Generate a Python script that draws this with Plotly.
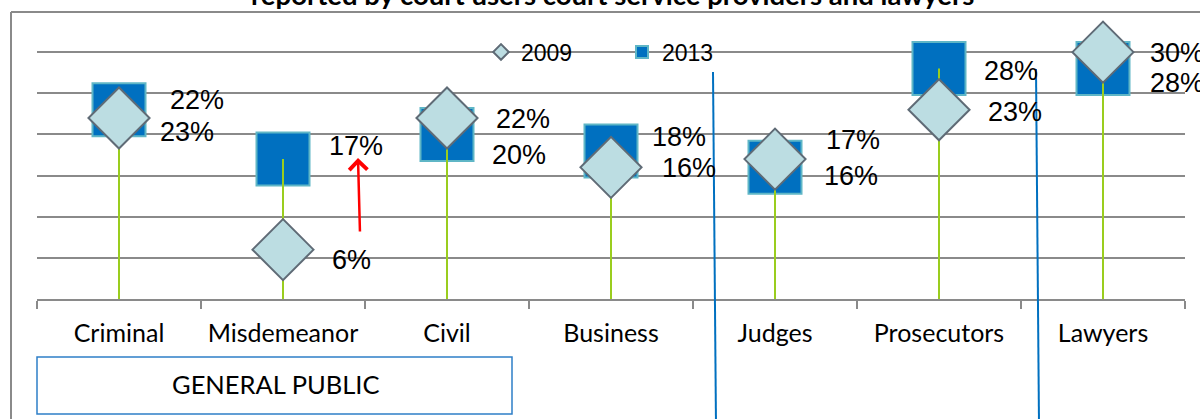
import plotly.graph_objects as go

# categories and values (percent)
categories = ["Criminal", "Misdemeanor", "Civil", "Business", "Judges", "Prosecutors", "Lawyers"]
values_2009 = [22, 6, 22, 16, 17, 23, 30]
values_2013 = [23, 17, 20, 18, 16, 28, 28]

# where each data label sits relative to its marker (px, plotly yshift is up)
shift_2009 = [(78, 18), (68, -10), (76, -1), (78, -1), (78, 19), (76, -2), (74, -1)]
shift_2013 = [(68, -22), (73, 13), (72, -21), (68, 14), (76, -9), (72, -2), (74, -14)]

W, H = 1200, 419
L, R, T, B = 37, 15, 11, 120
PW, PH = W - L - R, H - T - B


def px(x):
    return (x - L) / PW


def py(y):
    return (H - B - y) / PH


GRID = "#8a8a8a"
BLUE = "#0070C0"

fig = go.Figure()

# 2013 squares
fig.add_trace(go.Scatter(
    x=categories, y=values_2013, mode="markers", name="2013",
    marker=dict(symbol="square", size=53, color=BLUE,
                line=dict(color="#5fb6c6", width=2)),
))

# green drop lines, from the axis up to the higher of the two values
line_x, line_y = [], []
for c, a, b in zip(categories, values_2009, values_2013):
    line_x += [c, c, None]
    line_y += [0, max(a, b), None]
fig.add_trace(go.Scatter(
    x=line_x, y=line_y, mode="lines", showlegend=False,
    line=dict(color="#9acd1e", width=2), hoverinfo="skip",
))

# 2009 diamonds
fig.add_trace(go.Scatter(
    x=categories, y=values_2009, mode="markers", name="2009",
    marker=dict(symbol="diamond", size=47, color="#bcdde2",
                line=dict(color="#5f6b76", width=2)),
))

annotations = []
for vals, shifts in ((values_2009, shift_2009), (values_2013, shift_2013)):
    for c, v, (dx, dy) in zip(categories, vals, shifts):
        annotations.append(dict(
            x=c, y=v, xref="x", yref="y", text=f"{v}%", showarrow=False,
            xshift=dx, yshift=dy, xanchor="center", yanchor="middle",
            font=dict(family="Liberation Sans, Arial", size=27, color="black"),
        ))

# title, cut off at the top of the picture
annotations.append(dict(
    x=px(612), y=py(-6), xref="paper", yref="paper", showarrow=False,
    text="<b>reported by court users court service providers and lawyers</b>",
    xanchor="center", yanchor="middle",
    font=dict(family="Lato", size=27.5, color="black"),
))

# box label
annotations.append(dict(
    x=px(275), y=py(384), xref="paper", yref="paper", showarrow=False,
    text="GENERAL PUBLIC", xanchor="center", yanchor="middle",
    font=dict(family="Lato", size=25.5, color="black"),
))

# red arrow (tail offset given in pixels from the tip)
annotations.append(dict(
    x=px(358), y=py(158), xref="paper", yref="paper",
    ax=2, ay=75, axref="pixel", ayref="pixel",
    text="", showarrow=True, arrowhead=4, arrowsize=1.4, arrowwidth=2.5,
    arrowcolor="#ff0000",
))

shapes = [
    # outer border (top and left)
    dict(type="line", xref="paper", yref="paper", x0=px(11), x1=px(1205), y0=py(12), y1=py(12),
         line=dict(color=GRID, width=2)),
    dict(type="line", xref="paper", yref="paper", x0=px(11), x1=px(11), y0=py(12), y1=py(425),
         line=dict(color=GRID, width=2)),
    # blue separators
    dict(type="line", xref="paper", yref="paper", x0=px(713), x1=px(716), y0=py(72), y1=py(425),
         line=dict(color=BLUE, width=2)),
    dict(type="line", xref="paper", yref="paper", x0=px(1036), x1=px(1039), y0=py(69), y1=py(425),
         line=dict(color=BLUE, width=2)),
    # GENERAL PUBLIC box
    dict(type="rect", xref="paper", yref="paper", x0=px(37), x1=px(512), y0=py(357), y1=py(414),
         line=dict(color="#2e7fc8", width=1.5), fillcolor="rgba(0,0,0,0)"),
]

fig.update_layout(
    width=W, height=H,
    margin=dict(l=L, r=R, t=T, b=B),
    paper_bgcolor="white", plot_bgcolor="white",
    showlegend=True,
    legend=dict(
        orientation="h", x=px(481), y=py(52), xanchor="left", yanchor="middle",
        bgcolor="rgba(0,0,0,0)", traceorder="reversed",
        font=dict(family="Liberation Sans, Arial", size=23, color="black"),
        entrywidth=96, itemsizing="constant",
    ),
    annotations=annotations,
    shapes=shapes,
)

fig.update_xaxes(
    type="category", range=[-0.5, len(categories) - 0.5],
    showline=True, linecolor=GRID, linewidth=2,
    ticks="outside", tickson="boundaries", ticklen=8, tickcolor=GRID, tickwidth=2,
    showgrid=False, ticklabelstandoff=11,
    tickfont=dict(family="Lato", size=25, color="black"),
)
fig.update_yaxes(
    range=[0, 35], dtick=5, showticklabels=False, zeroline=False,
    showgrid=True, gridcolor=GRID, gridwidth=2, showline=False,
)

# drop the page's default body margin so the figure sits at the window's corner
fig.write_html("out.html", config={"displayModeBar": False},
               post_script="document.body.style.margin='0';")
